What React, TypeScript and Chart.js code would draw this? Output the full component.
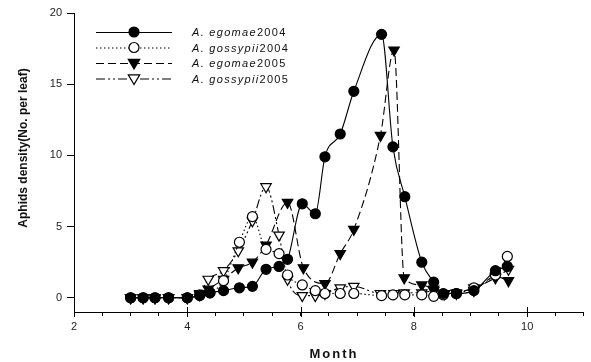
import React, { useEffect, useRef } from "react";
import { Chart, registerables } from "chart.js";

Chart.register(...registerables);

// ---- Data ----
const months2004 = [3.0, 3.22, 3.43, 3.67, 4.0, 4.22, 4.4, 4.64, 4.92, 5.15, 5.39, 5.62, 5.77, 6.03, 6.26, 6.43, 6.7, 6.94, 7.43, 7.63, 7.84, 8.14, 8.35, 8.52, 8.75, 9.06, 9.44, 9.65];
const egomae2004 = [0, 0, 0, 0, 0, 0.15, 0.35, 0.5, 0.7, 0.8, 2.0, 2.2, 2.7, 6.6, 5.9, 9.9, 11.5, 14.5, 18.5, 10.6, 7.1, 2.5, 1.1, 0.3, 0.3, 0.5, 1.9, 2.2];
const gossypii2004 = [0, 0, 0, 0, 0, 0.2, 0.35, 1.2, 3.9, 5.7, 3.4, 3.1, 1.6, 0.9, 0.5, 0.3, 0.3, 0.3, 0.15, 0.2, 0.2, 0.2, 0.1, 0.2, 0.3, 0.7, 1.6, 2.9];

const monthsEgomae2005 = [3.0, 3.22, 3.43, 3.67, 4.0, 4.22, 4.37, 4.64, 4.9, 5.15, 5.39, 5.77, 6.05, 6.43, 6.7, 6.94, 7.41, 7.65, 7.83, 8.14, 8.35, 8.54, 8.75, 9.06, 9.44, 9.67];
const egomae2005 = [0, 0, 0, 0, 0, 0.2, 0.6, 1.3, 2.1, 2.5, 3.7, 6.7, 2.1, 1.0, 3.1, 4.8, 11.4, 17.4, 1.4, 0.9, 0.6, 0.3, 0.3, 0.5, 1.5, 1.2];

const monthsGossypii2005 = [3.0, 3.22, 3.43, 3.67, 4.0, 4.22, 4.37, 4.64, 4.9, 5.15, 5.39, 5.62, 5.77, 6.03, 6.26, 6.43, 6.7, 6.94, 7.41, 7.65, 7.83, 8.14, 8.35, 8.54, 8.75, 9.06, 9.44, 9.67];
const gossypii2005 = [0, 0, 0, 0, 0, 0.3, 1.3, 1.9, 3.3, 5.4, 7.8, 4.4, 1.3, 0.15, 0.15, 0.3, 0.7, 0.8, 0.3, 0.3, 0.35, 0.35, 0.5, 0.3, 0.35, 0.7, 1.4, 2.0];

const legendSpecies = ["A. egomae", "A. gossypii", "A. egomae", "A. gossypii"];
const legendYears = ["2004", "2004", "2005", "2005"];
const xMajorTicks = [2, 4, 6, 8, 10];
const yTicks = [0, 5, 10, 15, 20];

const FONT = "'Liberation Sans', Arial, sans-serif";

const toPts = (xs: number[], ys: number[]) => xs.map((x, i) => ({ x, y: ys[i] }));

function drawMarker(ctx: CanvasRenderingContext2D, kind: string, filled: boolean, x: number, y: number, r: number) {
  ctx.beginPath();
  if (kind === "circle") {
    ctx.arc(x, y, r, 0, Math.PI * 2);
  } else {
    ctx.moveTo(x, y + r);
    ctx.lineTo(x - r * 0.95, y - r * 0.6);
    ctx.lineTo(x + r * 0.95, y - r * 0.6);
    ctx.closePath();
  }
  ctx.fillStyle = filled ? "#000" : "#fff";
  ctx.fill();
  ctx.lineWidth = 1.2;
  ctx.setLineDash([]);
  ctx.strokeStyle = "#000";
  ctx.stroke();
}

const customPlugin = {
  id: "customDecor",
  afterDraw(chart: any) {
    const ctx: CanvasRenderingContext2D = chart.ctx;
    const xs = chart.scales.x;
    const area = chart.chartArea;
    ctx.save();
    // major x ticks crossing the axis
    ctx.strokeStyle = "#000";
    ctx.lineWidth = 1;
    xMajorTicks.forEach((v) => {
      const px = Math.round(xs.getPixelForValue(v)) + 0.5;
      ctx.beginPath();
      ctx.moveTo(px, area.bottom - 5);
      ctx.lineTo(px, area.bottom + 5);
      ctx.stroke();
    });

    // legend
    const kinds = ["circle", "circle", "triangle", "triangle"];
    const fills = [true, false, true, false];
    const rowY = [32, 47.5, 63, 78.5];
    chart.data.datasets.forEach((ds: any, i: number) => {
      const y = rowY[i];
      ctx.beginPath();
      ctx.setLineDash(ds.borderDash || []);
      ctx.lineWidth = 1;
      ctx.strokeStyle = "#000";
      ctx.moveTo(96, y + 0.5);
      ctx.lineTo(172, y + 0.5);
      ctx.stroke();
      drawMarker(ctx, kinds[i], fills[i], 134, y, kinds[i] === "circle" ? 5 : 6);
      ctx.fillStyle = "#111";
      ctx.textBaseline = "middle";
      ctx.textAlign = "left";
      (ctx as any).letterSpacing = "1.3px";
      ctx.font = `italic 11px ${FONT}`;
      ctx.fillText(legendSpecies[i], 192, y + 1);
      const w = ctx.measureText(legendSpecies[i]).width;
      ctx.font = `11px ${FONT}`;
      ctx.fillText(legendYears[i], 192 + w, y + 1);
    });

    // axis titles
    (ctx as any).letterSpacing = "2px";
    ctx.fillStyle = "#111";
    ctx.font = `bold 13px ${FONT}`;
    ctx.textAlign = "center";
    ctx.textBaseline = "middle";
    ctx.fillText("Month", 334, 354);

    (ctx as any).letterSpacing = "0px";
    ctx.save();
    ctx.translate(24, 148);
    ctx.rotate(-Math.PI / 2);
    ctx.font = `bold 12px ${FONT}`;
    ctx.fillText("Aphids density(No. per leaf)", 0, 0);
    ctx.restore();
    ctx.restore();
  },
};

export default function App() {
  const ref = useRef<HTMLCanvasElement | null>(null);

  useEffect(() => {
    if (!ref.current) return;
    const common = {
      borderColor: "#000",
      borderWidth: 1.1,
      pointBorderColor: "#000",
      pointBorderWidth: 1.2,
      cubicInterpolationMode: "monotone" as const,
      fill: false,
    };
    const chart = new Chart(ref.current, {
      type: "line",
      data: {
        datasets: [
          {
            ...common,
            label: "A. egomae2004",
            data: toPts(months2004, egomae2004),
            pointStyle: "circle",
            pointRadius: 5,
            pointBackgroundColor: "#000",
            backgroundColor: "#000",
          },
          {
            ...common,
            label: "A. gossypii2004",
            data: toPts(months2004, gossypii2004),
            borderDash: [1.5, 2.5],
            pointStyle: "circle",
            pointRadius: 5,
            pointBackgroundColor: "#fff",
            backgroundColor: "#fff",
          },
          {
            ...common,
            label: "A. egomae2005",
            data: toPts(monthsEgomae2005, egomae2005),
            borderDash: [8, 4],
            pointStyle: "triangle",
            pointRotation: 180,
            pointRadius: 6,
            pointBackgroundColor: "#000",
            backgroundColor: "#000",
          },
          {
            ...common,
            label: "A. gossypii2005",
            data: toPts(monthsGossypii2005, gossypii2005),
            borderDash: [9, 3, 2, 3, 2, 3],
            pointStyle: "triangle",
            pointRotation: 180,
            pointRadius: 6,
            pointBackgroundColor: "#fff",
            backgroundColor: "#fff",
          },
        ],
      },
      options: {
        responsive: false,
        animation: false,
        layout: { padding: { top: 13, right: 0, left: 0, bottom: 0 } },
        plugins: { legend: { display: false }, tooltip: { enabled: false } },
        scales: {
          x: {
            type: "linear",
            min: 2,
            max: 11,
            afterFit: (s: any) => {
              s.height = 50;
            },
            ticks: {
              stepSize: 0.5,
              autoSkip: false,
              maxRotation: 0,
              padding: 4,
              color: "#222",
              font: { family: FONT, size: 11 },
              callback: (v: any) => (xMajorTicks.includes(Number(v)) ? String(v) : ""),
            },
            grid: { drawOnChartArea: false, drawTicks: true, tickLength: 4, color: "#000", lineWidth: 1 },
            border: { display: true, color: "#000", width: 1 },
          },
          y: {
            type: "linear",
            min: -1,
            max: 20,
            afterFit: (s: any) => {
              s.width = 74;
            },
            afterBuildTicks: (s: any) => {
              s.ticks = yTicks.map((v) => ({ value: v }));
            },
            ticks: {
              stepSize: 5,
              padding: 5,
              color: "#222",
              font: { family: FONT, size: 11 },
            },
            grid: { drawOnChartArea: false, drawTicks: true, tickLength: 7, color: "#000", lineWidth: 1 },
            border: { display: true, color: "#000", width: 1 },
          },
        },
      },
      plugins: [customPlugin],
    });
    return () => chart.destroy();
  }, []);

  return (
    <div style={{ position: "absolute", left: 0, top: 0, width: 591, height: 362, background: "#fff" }}>
      <canvas ref={ref} width={591} height={362} style={{ display: "block" }} />
    </div>
  );
}
